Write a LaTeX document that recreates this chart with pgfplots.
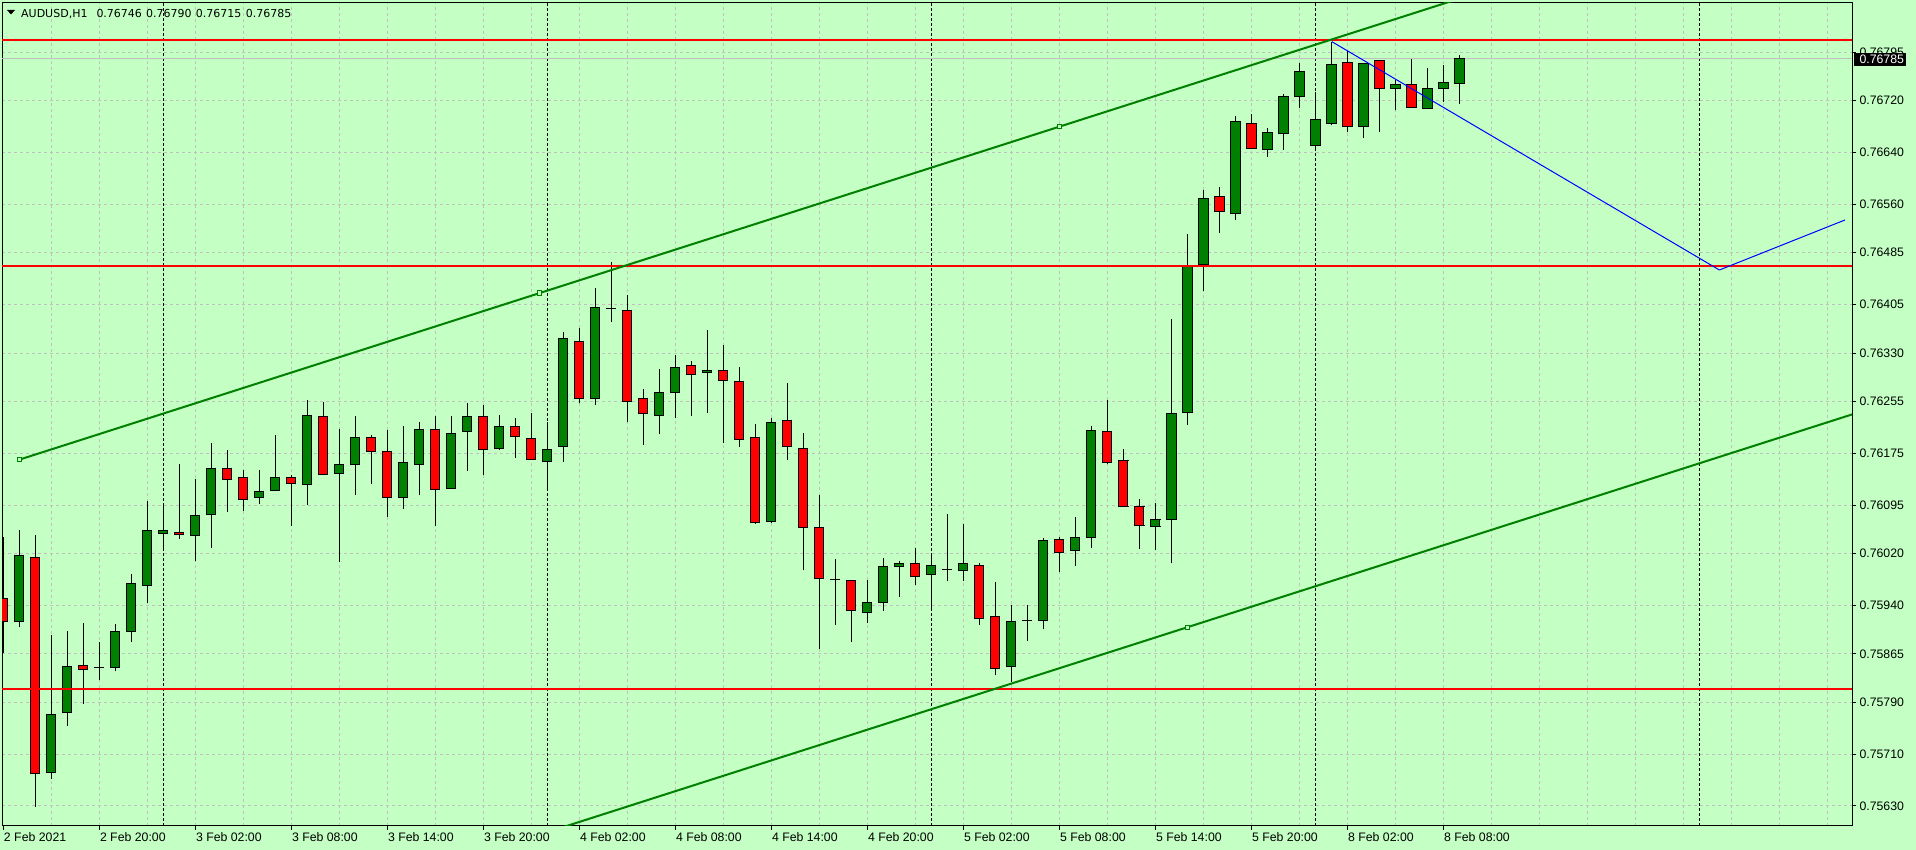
\documentclass[border=0pt]{standalone}
\usepackage{pgfplots}
\pgfplotsset{compat=1.18}
\usepackage{pgfplotstable}
\usepackage{fontspec}
\setmainfont{Liberation Sans}
\newfontfamily\dejavu{DejaVu Sans}
\definecolor{bg}{RGB}{196,255,196}
\definecolor{bull}{RGB}{0,128,0}
\definecolor{bear}{RGB}{255,0,0}
\definecolor{gridc}{RGB}{192,192,192}
\definecolor{chan}{RGB}{0,128,0}

% candle index 0 = 2 Feb 2021 14:00 (H1 bars)
\pgfplotstableread{
x o h l c
1 0.75915 0.76057 0.75906 0.76017
3 0.75682 0.75894 0.75672 0.75772
4 0.75775 0.75900 0.75754 0.75846
7 0.75844 0.75911 0.75838 0.75900
8 0.75900 0.75989 0.75884 0.75974
9 0.75971 0.76101 0.75944 0.76056
10 0.76051 0.76094 0.76025 0.76056
12 0.76048 0.76135 0.76008 0.76079
13 0.76081 0.76191 0.76029 0.76152
16 0.76106 0.76149 0.76096 0.76116
17 0.76118 0.76203 0.76117 0.76138
19 0.76127 0.76257 0.76095 0.76234
21 0.76144 0.76213 0.76007 0.76158
22 0.76158 0.76233 0.76111 0.76200
25 0.76106 0.76217 0.76089 0.76161
26 0.76158 0.76223 0.76110 0.76212
28 0.76121 0.76233 0.76120 0.76206
29 0.76209 0.76253 0.76148 0.76232
31 0.76183 0.76234 0.76180 0.76217
34 0.76163 0.76223 0.76117 0.76181
35 0.76186 0.76362 0.76162 0.76353
37 0.76259 0.76430 0.76250 0.76401
41 0.76233 0.76305 0.76205 0.76269
42 0.76269 0.76327 0.76229 0.76308
44 0.76300 0.76365 0.76238 0.76303
48 0.76070 0.76229 0.76067 0.76223
54 0.75929 0.75979 0.75913 0.75945
55 0.75945 0.76014 0.75932 0.76000
56 0.76000 0.76008 0.75953 0.76004
58 0.75987 0.76021 0.75932 0.76002
60 0.75994 0.76066 0.75978 0.76005
63 0.75846 0.75940 0.75822 0.75915
65 0.75917 0.76044 0.75903 0.76041
67 0.76025 0.76077 0.76001 0.76045
68 0.76045 0.76218 0.76028 0.76211
72 0.76062 0.76098 0.76025 0.76073
73 0.76072 0.76383 0.76005 0.76237
74 0.76238 0.76514 0.76219 0.76466
75 0.76467 0.76582 0.76426 0.76569
77 0.76546 0.76696 0.76535 0.76688
79 0.76645 0.76677 0.76633 0.76671
80 0.76669 0.76731 0.76644 0.76727
81 0.76727 0.76778 0.76708 0.76765
82 0.76650 0.76733 0.76646 0.76691
83 0.76684 0.76810 0.76682 0.76776
85 0.76680 0.76778 0.76663 0.76778
87 0.76739 0.76752 0.76705 0.76745
89 0.76708 0.76770 0.76708 0.76739
90 0.76739 0.76775 0.76718 0.76748
91 0.76746 0.76790 0.76715 0.76785
}\bulltab

\pgfplotstableread{
x o h l c
0 0.75951 0.76046 0.75866 0.75915
2 0.76014 0.76049 0.75629 0.75680
5 0.75847 0.75913 0.75788 0.75841
11 0.76053 0.76159 0.76043 0.76050
14 0.76152 0.76180 0.76085 0.76135
15 0.76138 0.76150 0.76086 0.76104
18 0.76138 0.76141 0.76063 0.76129
20 0.76232 0.76254 0.76141 0.76143
23 0.76200 0.76203 0.76127 0.76178
24 0.76178 0.76211 0.76077 0.76107
27 0.76212 0.76232 0.76062 0.76119
30 0.76232 0.76250 0.76142 0.76181
32 0.76217 0.76230 0.76168 0.76201
33 0.76198 0.76237 0.76166 0.76166
36 0.76348 0.76368 0.76252 0.76259
39 0.76396 0.76419 0.76224 0.76255
40 0.76259 0.76274 0.76188 0.76237
43 0.76311 0.76317 0.76233 0.76297
45 0.76303 0.76342 0.76191 0.76288
46 0.76286 0.76308 0.76185 0.76197
47 0.76200 0.76220 0.76066 0.76068
49 0.76226 0.76283 0.76164 0.76186
50 0.76183 0.76206 0.75994 0.76061
51 0.76061 0.76111 0.75873 0.75982
53 0.75979 0.75979 0.75884 0.75932
57 0.76005 0.76028 0.75972 0.75985
61 0.76002 0.76005 0.75910 0.75920
62 0.75923 0.75976 0.75832 0.75843
66 0.76042 0.76045 0.75991 0.76022
69 0.76209 0.76257 0.76158 0.76161
70 0.76164 0.76181 0.76092 0.76093
71 0.76093 0.76104 0.76027 0.76064
76 0.76572 0.76587 0.76516 0.76549
78 0.76685 0.76699 0.76646 0.76646
84 0.76779 0.76796 0.76671 0.76680
86 0.76782 0.76782 0.76672 0.76739
88 0.76745 0.76784 0.76710 0.76710
}\beartab

\pgfplotstableread{
x o h l c
6 0.75844 0.75883 0.75825 0.75844
38 0.76399 0.76470 0.76378 0.76399
52 0.75980 0.76011 0.75910 0.75980
59 0.75996 0.76081 0.75977 0.75996
64 0.75917 0.75940 0.75885 0.75917
}\dojitab

\pgfplotsset{
  ebase/.style={draw=none, mark=none, forget plot},
  wick/.style={ebase, error bars/.cd, y dir=plus, y explicit, error mark=none,
     error bar style={draw=black, line width=1pt}},
  bodyout/.style={ebase, error bars/.cd, y dir=plus, y explicit, error mark=none,
     error bar style={draw=black, line width=10.3pt}},
  bodyin/.style={ebase, error bars/.cd, y dir=plus, y explicit, error mark=none,
     error bar style={draw=#1, line width=8.3pt}},
  edge/.style={ebase, error bars/.cd, x dir=both, x fixed=0.322, error mark=none,
     error bar style={draw=black, line width=1pt}},
}

\begin{document}
\begin{tikzpicture}
\fill[bg] (0,0) rectangle (1916pt,850pt);
\useasboundingbox (0,0) rectangle (1916pt,850pt);
\begin{axis}[
  at={(2pt,24pt)}, anchor=south west,
  width=1850pt, height=823.3pt, scale only axis,
  xmin=-0.081, xmax=115.54, ymin=0.755991, ymax=0.768714,
  axis line style={black, line width=1pt},
  tick style={black, line width=1pt},
  major tick length=4pt, minor tick length=0pt,
  tick align=outside,
  xtick pos=bottom, ytick pos=right, yticklabel pos=right,
  scaled y ticks=false,
  font=\fontsize{12.3}{14}\selectfont,
  xtick={0,6,...,90},
  xticklabels={2 Feb 2021,2 Feb 20:00,3 Feb 02:00,3 Feb 08:00,3 Feb 14:00,3 Feb 20:00,4 Feb 02:00,4 Feb 08:00,4 Feb 14:00,4 Feb 20:00,5 Feb 02:00,5 Feb 08:00,5 Feb 14:00,5 Feb 20:00,8 Feb 02:00,8 Feb 08:00},
  minor xtick={3,6,...,114},
  xmajorgrids=false, xminorgrids=true,
  ytick={0.75630,0.75710,0.75790,0.75865,0.75940,0.76020,0.76095,0.76175,0.76255,0.76330,0.76405,0.76485,0.76560,0.76640,0.76720,0.76795},
  yticklabels={0.75630,0.75710,0.75790,0.75865,0.75940,0.76020,0.76095,0.76175,0.76255,0.76330,0.76405,0.76485,0.76560,0.76640,0.76720,0.76795},
  ymajorgrids=true,
  major grid style={gridc, dash pattern=on 3pt off 3pt, line width=1pt},
  minor grid style={gridc, dash pattern=on 3pt off 3pt, line width=1pt},
  xticklabel style={anchor=north west, inner sep=0pt, xshift=0.5pt, yshift=-2.7pt},
  yticklabel style={anchor=west, inner sep=0pt, xshift=3.3pt},
  extra x ticks={10,34,58,82,106},
  extra x tick labels={},
  extra x tick style={grid=major, major tick length=0pt,
     major grid style={black, dash pattern=on 3pt off 2pt, line width=1pt}},
]
% bid line
\addplot[gridc, line width=1pt, forget plot] coordinates {(-1,0.76785) (120,0.76785)};

% bullish candles
\addplot[wick] table[x=x, y=l, y error plus expr=\thisrow{h}-\thisrow{l}] {\bulltab};
\addplot[bodyout] table[x=x, y=o, y error plus expr=\thisrow{c}-\thisrow{o}] {\bulltab};
\addplot[bodyin=bull] table[x=x, y=o, y error plus expr=\thisrow{c}-\thisrow{o}] {\bulltab};
\addplot[edge] table[x=x, y=o] {\bulltab};
\addplot[edge] table[x=x, y=c] {\bulltab};
% bearish candles
\addplot[wick] table[x=x, y=l, y error plus expr=\thisrow{h}-\thisrow{l}] {\beartab};
\addplot[bodyout] table[x=x, y=c, y error plus expr=\thisrow{o}-\thisrow{c}] {\beartab};
\addplot[bodyin=bear] table[x=x, y=c, y error plus expr=\thisrow{o}-\thisrow{c}] {\beartab};
\addplot[edge] table[x=x, y=o] {\beartab};
\addplot[edge] table[x=x, y=c] {\beartab};
% doji
\addplot[wick] table[x=x, y=l, y error plus expr=\thisrow{h}-\thisrow{l}] {\dojitab};
\addplot[edge] table[x=x, y=o] {\dojitab};

% horizontal levels
\addplot[red, line width=2pt] coordinates {(-1,0.768138) (120,0.768138)};
\addplot[red, line width=2pt] coordinates {(-1,0.764645) (120,0.764645)};
\addplot[red, line width=2pt] coordinates {(-1,0.758108) (120,0.758108)};

% channel
\addplot[chan, line width=2pt] coordinates {(1,0.761652) (120,0.771073)};
\addplot[chan, line width=2pt] coordinates {(1,0.753283) (120,0.762704)};

% blue trend lines
\addplot[blue, line width=1pt] coordinates {(83.03,0.768112) (107.25,0.764583)};
\addplot[blue, line width=1pt] coordinates {(107.25,0.764583) (115.1,0.765356)};

% channel anchor points
\addplot[only marks, mark=square*, mark size=2.2pt,
  mark options={draw=chan, fill=bg, line width=1pt}]
  coordinates {(1,0.761652) (33.5,0.764225) (66,0.766798) (74,0.759062)};
\end{axis}
% header
\fill[black] (7pt,840pt) -- (15pt,840pt) -- (11pt,835.5pt) -- cycle;
\node[anchor=base west, inner sep=0pt, font=\dejavu\fontsize{11}{13}\selectfont] at (21pt,832.7pt) {AUDUSD,H1};
\node[anchor=base west, inner sep=0pt, font=\dejavu\fontsize{11}{13}\selectfont] at (96.3pt,832.7pt) {0.76746};
\node[anchor=base west, inner sep=0pt, font=\dejavu\fontsize{11}{13}\selectfont] at (146pt,832.7pt) {0.76790};
\node[anchor=base west, inner sep=0pt, font=\dejavu\fontsize{11}{13}\selectfont] at (195.7pt,832.7pt) {0.76715};
\node[anchor=base west, inner sep=0pt, font=\dejavu\fontsize{11}{13}\selectfont] at (245.7pt,832.7pt) {0.76785};
% current price box
\fill[black] (1854pt,784pt) rectangle (1906pt,797.3pt);
\node[anchor=west, inner sep=0pt, text=white, font=\fontsize{12.3}{14}\selectfont] at (1859.3pt,790.7pt) {0.76785};
\end{tikzpicture}
\end{document}
